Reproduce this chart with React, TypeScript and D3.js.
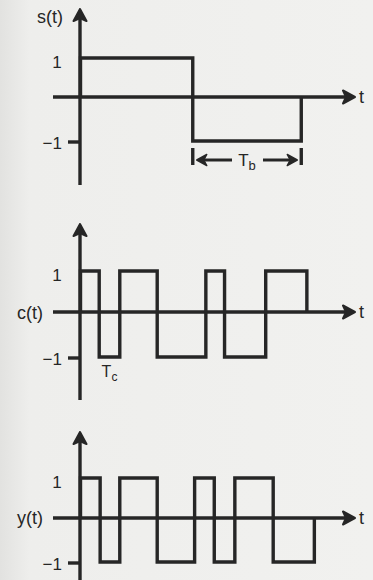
import { useEffect, useRef } from "react";
import * as d3 from "d3";

const svgWidth = 373;
const svgHeight = 580;

// edge times in chip units (Tc = 1)
const sEdges = [0, 6.0, 11.8];
const sLevels = [1, -1];
const cEdges = [0, 1.0, 2.1, 4.1, 6.7, 7.7, 9.9, 12.1];
const cLevels = [1, -1, 1, -1, 1, -1, 1];
const yEdges = [0, 1.05, 2.1, 4.1, 6.1, 7.15, 8.25, 10.3, 12.5];
const yLevels = [1, -1, 1, -1, 1, -1, 1, -1];

const signalNames = ["s(t)", "c(t)", "y(t)"];
const levelTicks = [1, -1];

const ink = "#262626";
const font = "Liberation Sans, Arial, sans-serif";

// build the step path points: start at 0, hold each level, end back at 0
function stepPoints(edges: number[], levels: number[]) {
  const pts: [number, number][] = [[edges[0], 0]];
  levels.forEach((v, i) => {
    pts.push([edges[i], v]);
    pts.push([edges[i + 1], v]);
  });
  pts.push([edges[edges.length - 1], 0]);
  return pts;
}

export default function App() {
  const ref = useRef<SVGSVGElement>(null);

  useEffect(() => {
    const svg = d3.select(ref.current);
    svg.selectAll("*").remove();

    // scanned-paper background, a bit darker at the left edge
    const grad = svg.append("defs").append("linearGradient")
      .attr("id", "paper").attr("x1", 0).attr("x2", 1).attr("y1", 0).attr("y2", 0);
    grad.append("stop").attr("offset", 0).attr("stop-color", "#e2e2e0");
    grad.append("stop").attr("offset", 0.08).attr("stop-color", "#eeeeec");
    grad.append("stop").attr("offset", 1).attr("stop-color", "#f1f1ef");
    svg.append("rect")
      .attr("width", svgWidth)
      .attr("height", svgHeight)
      .attr("fill", "url(#paper)");

    const x = d3.scaleLinear().domain([0, 12]).range([80.5, 305]);
    const axisX = 80;
    const axisStart = 53;
    const arrowTip = 355;
    const sw = 3.4;

    const panels = [
      { name: signalNames[0], edges: sEdges, levels: sLevels, yr: [141, 97, 58], top: 9, bottom: 185, nameX: 63, nameY: 23 },
      { name: signalNames[1], edges: cEdges, levels: cLevels, yr: [357, 312, 271], top: 224, bottom: 400, nameX: 43, nameY: 319 },
      { name: signalNames[2], edges: yEdges, levels: yLevels, yr: [562, 518, 478], top: 432, bottom: 590, nameX: 43, nameY: 524 },
    ];

    panels.forEach((p) => {
      const y = d3.scaleLinear().domain([-1, 0, 1]).range(p.yr);
      const g = svg.append("g");
      const y0 = y(0);

      // vertical axis with arrow
      g.append("line")
        .attr("x1", axisX).attr("x2", axisX)
        .attr("y1", p.top + 6).attr("y2", p.bottom)
        .attr("stroke", ink).attr("stroke-width", sw);
      g.append("path")
        .attr("d", `M${axisX},${p.top} L${axisX - 6.5},${p.top + 12} L${axisX},${p.top + 9} L${axisX + 6.5},${p.top + 12} Z`)
        .attr("fill", ink).attr("stroke", ink).attr("stroke-width", 2).attr("stroke-linejoin", "round");

      // horizontal axis with arrow
      g.append("line")
        .attr("x1", axisStart).attr("x2", arrowTip - 6)
        .attr("y1", y0).attr("y2", y0)
        .attr("stroke", ink).attr("stroke-width", sw);
      g.append("path")
        .attr("d", `M${arrowTip},${y0} L${arrowTip - 12},${y0 - 6.5} L${arrowTip - 9},${y0} L${arrowTip - 12},${y0 + 6.5} Z`)
        .attr("fill", ink).attr("stroke", ink).attr("stroke-width", 2).attr("stroke-linejoin", "round");
      g.append("text")
        .attr("x", arrowTip + 4).attr("y", y0 + 6)
        .attr("font-family", font)
        .attr("font-size", 18).attr("fill", ink)
        .text("t");

      // -1 tick
      g.append("line")
        .attr("x1", axisX - 12).attr("x2", axisX)
        .attr("y1", y(-1) + 1).attr("y2", y(-1) + 1)
        .attr("stroke", ink).attr("stroke-width", sw);

      // level labels
      g.selectAll("text.lvl")
        .data(levelTicks)
        .join("text")
        .attr("class", "lvl")
        .attr("x", (d) => (d > 0 ? 57 : 62))
        .attr("y", (d) => y(d) + (d > 0 ? 10 : 8))
        .attr("text-anchor", (d) => (d > 0 ? "middle" : "end"))
        .attr("font-family", font)
        .attr("font-size", 17).attr("fill", ink)
        .text((d) => (d > 0 ? "1" : "\u22121"));

      // signal name
      g.append("text")
        .attr("x", p.nameX).attr("y", p.nameY)
        .attr("text-anchor", "end")
        .attr("font-family", font)
        .attr("font-size", 18).attr("fill", ink)
        .text(p.name);

      // waveform
      const line = d3.line<[number, number]>()
        .x((d) => x(d[0]))
        .y((d) => y(d[1]));
      g.append("path")
        .attr("d", line(stepPoints(p.edges, p.levels)))
        .attr("fill", "none")
        .attr("stroke", ink)
        .attr("stroke-width", sw)
        .attr("stroke-linejoin", "miter");

      // Tb marker under s(t)
      if (p.name === "s(t)") {
        const xa = x(sEdges[1]);
        const xb = x(sEdges[2]);
        const ya = 160;
        [xa, xb].forEach((xx) => {
          g.append("line")
            .attr("x1", xx).attr("x2", xx)
            .attr("y1", 148).attr("y2", 165)
            .attr("stroke", ink).attr("stroke-width", sw);
        });
        const mid = (xa + xb) / 2;
        g.append("line")
          .attr("x1", xa + 10).attr("x2", mid - 15)
          .attr("y1", ya).attr("y2", ya)
          .attr("stroke", ink).attr("stroke-width", 3);
        g.append("line")
          .attr("x1", mid + 16).attr("x2", xb - 10)
          .attr("y1", ya).attr("y2", ya)
          .attr("stroke", ink).attr("stroke-width", 3);
        g.append("path")
          .attr("d", `M${xa + 4},${ya} L${xa + 14},${ya - 5.5} L${xa + 11},${ya} L${xa + 14},${ya + 5.5} Z`)
          .attr("fill", ink).attr("stroke", ink).attr("stroke-width", 1.5).attr("stroke-linejoin", "round");
        g.append("path")
          .attr("d", `M${xb - 4},${ya} L${xb - 14},${ya - 5.5} L${xb - 11},${ya} L${xb - 14},${ya + 5.5} Z`)
          .attr("fill", ink).attr("stroke", ink).attr("stroke-width", 1.5).attr("stroke-linejoin", "round");
        const tb = g.append("text")
          .attr("x", mid).attr("y", ya + 6)
          .attr("text-anchor", "middle")
          .attr("font-family", font)
          .attr("font-size", 17).attr("fill", ink);
        tb.append("tspan").text("T");
        tb.append("tspan").attr("dy", 4).attr("font-size", 13).text("b");
      }

      // Tc label under c(t)
      if (p.name === "c(t)") {
        const tc = g.append("text")
          .attr("x", (x(cEdges[1]) + x(cEdges[2])) / 2)
          .attr("y", 377)
          .attr("text-anchor", "middle")
          .attr("font-family", font)
          .attr("font-size", 16).attr("fill", ink);
        tc.append("tspan").text("T");
        tc.append("tspan").attr("dy", 4).attr("font-size", 12).text("c");
      }
    });
  }, []);

  return (
    <svg
      ref={ref}
      width={svgWidth}
      height={svgHeight}
      style={{ position: "fixed", left: 0, top: 0, display: "block" }}
    />
  );
}
